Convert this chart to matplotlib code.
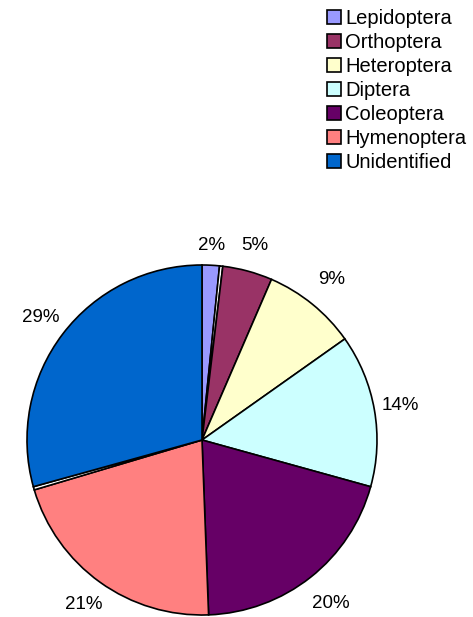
import matplotlib.pyplot as plt

plt.rcParams['font.family'] = ['Liberation Sans', 'DejaVu Sans']

# slices clockwise from 12 o'clock, two tiny unlabeled slivers included
slices = ['Lepidoptera', 'gap1', 'Orthoptera', 'Heteroptera', 'Diptera',
          'Coleoptera', 'Hymenoptera', 'gap2', 'Unidentified']
values = [1.6, 0.3, 4.6, 8.7, 14.1, 20.1, 21.0, 0.3, 29.3]
pct_labels = ['2%', '', '5%', '9%', '14%', '20%', '21%', '', '29%']
colors = ['#9999FF', '#FFFFFF', '#993366', '#FFFFCC', '#CCFFFF',
          '#660066', '#FF8080', '#FFFFFF', '#0066CC']
legend_names = ['Lepidoptera', 'Orthoptera', 'Heteroptera', 'Diptera',
                'Coleoptera', 'Hymenoptera', 'Unidentified']
# radial distance of each percentage label (in radii)
label_dist = [1.11, 1.17, 1.15, 1.18, 1.15, 1.19, 1.16, 1.17, 1.16]

W, H = 473, 617
fig = plt.figure(figsize=(W / 100, H / 100), dpi=100)
cx, cy, r = 202, 440, 175
ax = fig.add_axes([(cx - r) / W, (H - cy - r) / H, 2 * r / W, 2 * r / H])

wedges, texts = ax.pie(values, labels=pct_labels, colors=colors,
                       startangle=90, counterclock=False, labeldistance=1.17,
                       wedgeprops=dict(edgecolor='black', linewidth=1.2),
                       textprops=dict(fontsize=13.5))
for t, d in zip(texts, label_dist):
    x, y = t.get_position()
    t.set_position((x * d / 1.17, y * d / 1.17))
    t.set_ha('center')
    t.set_va('center')
ax.set_xlim(-1, 1)
ax.set_ylim(-1, 1)
ax.set_aspect('equal')

handles = [wedges[slices.index(n)] for n in legend_names]
fig.legend(handles, legend_names, loc='upper left',
           bbox_to_anchor=(327 / W, 1 - 9 / H), frameon=False,
           borderaxespad=0, borderpad=0, fontsize=14.5,
           handlelength=0.7, handleheight=0.7, handletextpad=0.2,
           labelspacing=0.25)

fig.savefig('out.png', dpi=100)
